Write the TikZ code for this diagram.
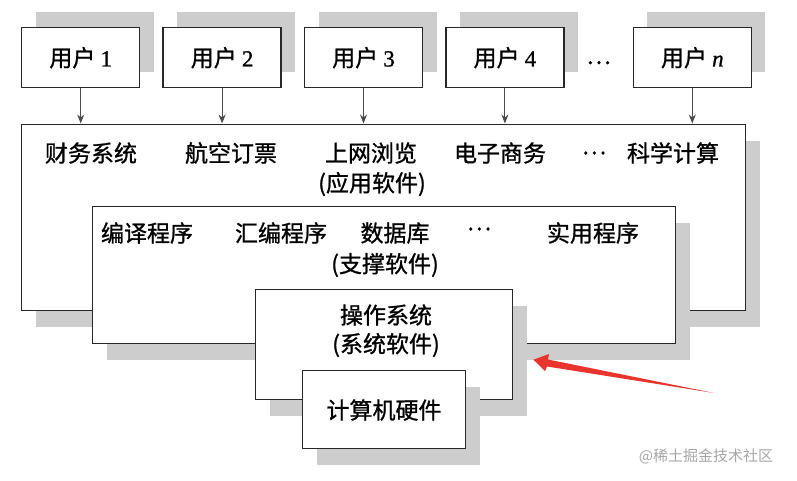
\documentclass[tikz,border=0pt]{standalone}
\usepackage{fontspec}
\setmainfont{Liberation Serif}[FakeBold=1]
\newfontfamily\cjk{Noto Sans CJK SC}[FakeBold=1]
\newfontfamily\markfont{Noto Sans CJK SC}
\usepackage{tikz}
\usetikzlibrary{arrows.meta,positioning,shadows,calc}

\definecolor{linegray}{RGB}{40,40,40}
\definecolor{shadegray}{RGB}{205,205,205}
\definecolor{markred}{RGB}{232,52,45}

\begin{document}
\begin{tikzpicture}[
	x=1pt, y=-1pt,
	>={Stealth[length=9pt,width=7pt]},
	node distance=22pt,
	box/.style={draw=linegray, line width=1.4pt, fill=white, inner sep=0pt},
	user/.style={box, minimum width=118pt, minimum height=60pt, font=\cjk\fontsize{23}{26}\selectfont,
		drop shadow={shadow xshift=14pt, shadow yshift=16pt, fill=shadegray, opacity=1}},
	layer/.style={box, anchor=north west,
		drop shadow={shadow xshift=14pt, shadow yshift=-16pt, fill=shadegray, opacity=1}},
	lbl/.style={inner sep=0pt, font=\cjk\fontsize{23}{26}\selectfont, text=black},
	uarrow/.style={->, line width=0.9pt, draw=black!70, fill=black!55, shorten >=0.5pt}
]
\useasboundingbox (0,0) rectangle (797,480);

% user row
\node[user, anchor=north west] (u1) at (21,27) {用户 {\rmfamily 1}};
\node[user, right=of u1] (u2) {用户 {\rmfamily 2}};
\node[user, right=of u2] (u3) {用户 {\rmfamily 3}};
\node[user, right=of u3] (u4) {用户 {\rmfamily 4}};
\node[user, right=68pt of u4] (un) {用户 {\rmfamily\itshape n}};
\node[lbl] (udots) at ($(u4.east)!0.5!(un.west)+(0,5)$) {…};

% nested layers
\node[layer, minimum width=724pt, minimum height=186pt] (app) at (21,124) {};
\node[lbl] (a1) at (91,153) {财务系统};
\node[lbl] (a2) at (231,153) {航空订票};
\node[lbl] (a3) at (371,153) {上网浏览};
\node[lbl] (a4) at (500,153) {电子商务};
\node[lbl] (adots) at (594,153) {…};
\node[lbl] (a5) at (673,153) {科学计算};
\node[lbl] (atitle) at (372,184) {(应用软件)};

\node[layer, minimum width=583pt, minimum height=137pt] (sup) at (92,206) {};
\node[lbl] (s1) at (147,233) {编译程序};
\node[lbl] (s2) at (281,233) {汇编程序};
\node[lbl] (s3) at (395,233) {数据库};
\node[lbl] (sdots) at (479,229) {…};
\node[lbl] (s4) at (593,233) {实用程序};
\node[lbl] (stitle) at (385,265) {(支撑软件)};

\node[layer, minimum width=257pt, minimum height=110pt] (os) at (255,289) {};
\node[lbl] (o1) at (386,315) {操作系统};
\node[lbl] (otitle) at (386,345) {(系统软件)};

\node[layer, minimum width=163pt, minimum height=78pt] (hw) at (302,370) {};
\node[lbl] (h1) at (384,410) {计算机硬件};

% users to applications
\draw[uarrow] (u1) -- (u1 |- app.north);
\draw[uarrow] (u2) -- (u2 |- app.north);
\draw[uarrow] (u3) -- (u3 |- app.north);
\draw[uarrow] (u4) -- (u4 |- app.north);
\draw[uarrow] (un) -- (un |- app.north);

% red marker
\coordinate (redtail) at (714,393);
\coordinate (redtip) at ([shift={(20pt,-15pt)}]os.east);
\fill[markred] (redtail) -- (547,366.5) -- (545,371) -- (redtip) -- (549,354) -- (548,359.5) -- cycle;

% watermark
\node[inner sep=0pt, font=\markfont\fontsize{15}{17}\selectfont, text=black!35] (mark) at (706,456) {@稀土掘金技术社区};
\end{tikzpicture}
\end{document}
